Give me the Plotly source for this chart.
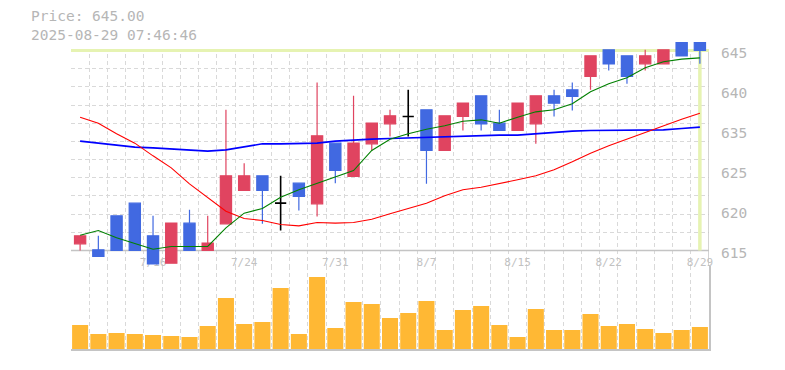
import plotly.graph_objects as go

# ---------------- data ----------------
dates = ["2025-07-10", "2025-07-11", "2025-07-14", "2025-07-15", "2025-07-16",
         "2025-07-17", "2025-07-18", "2025-07-22", "2025-07-23", "2025-07-24",
         "2025-07-25", "2025-07-28", "2025-07-29", "2025-07-30", "2025-07-31",
         "2025-08-01", "2025-08-04", "2025-08-05", "2025-08-06", "2025-08-07",
         "2025-08-08", "2025-08-12", "2025-08-13", "2025-08-14", "2025-08-15",
         "2025-08-18", "2025-08-19", "2025-08-20", "2025-08-21", "2025-08-22",
         "2025-08-25", "2025-08-26", "2025-08-27", "2025-08-28", "2025-08-29"]

open_ = [616.0, 615.1, 620.2, 622.1, 617.2, 613.1, 619.1, 615.0, 619.0, 624.0,
         626.2, 622.1, 625.1, 622.0, 631.1, 626.1, 631.0, 634.0, 635.1, 636.1,
         630.0, 635.1, 638.2, 634.1, 633.0, 634.0, 638.2, 639.1, 641.1, 645.1,
         644.2, 643.0, 643.0, 646.2, 646.2]
high = [617.2, 617.2, 620.2, 622.1, 620.2, 619.1, 621.1, 620.2, 636.1, 628.1,
        626.2, 626.2, 625.1, 640.2, 631.1, 638.2, 634.1, 636.1, 639.1, 636.1,
        635.2, 637.1, 638.2, 636.1, 637.1, 638.2, 639.1, 640.2, 644.2, 645.1,
        644.2, 645.1, 645.1, 646.2, 646.2]
low = [615.0, 614.1, 615.0, 615.0, 613.0, 613.1, 615.0, 615.0, 619.0, 624.0,
       619.0, 618.0, 621.0, 620.1, 625.1, 626.1, 630.0, 632.1, 632.1, 625.0,
       630.0, 633.0, 633.0, 633.0, 633.0, 631.0, 635.1, 636.0, 639.1, 642.0,
       640.0, 642.0, 643.0, 644.2, 643.0]
close = [617.2, 614.1, 615.0, 615.0, 613.0, 619.1, 615.0, 616.1, 626.2, 626.2,
         624.0, 622.1, 623.1, 632.2, 627.0, 631.1, 634.1, 635.2, 635.1, 630.0,
         635.2, 637.1, 634.0, 633.0, 637.1, 638.2, 637.1, 638.1, 644.2, 643.0,
         641.1, 644.2, 645.1, 644.2, 645.0]

volume = [24000, 15000, 16000, 15000, 14000, 13000, 12000, 23000, 51000, 25000,
          27000, 61000, 15000, 72000, 21000, 47000, 45000, 31000, 36000, 48000,
          19000, 39000, 43000, 24000, 12000, 40000, 19000, 19000, 35000, 23000,
          25000, 20000, 16000, 19000, 22000]

ma_short = [617.3, 618.0, 616.9, 616.0, 615.2, 615.6, 615.6, 615.6, 618.4, 620.6,
            621.3, 623.0, 624.1, 625.1, 626.0, 627.0, 630.0, 631.7, 632.5, 633.2,
            633.7, 634.4, 634.6, 634.1, 635.0, 635.8, 636.1, 637.0, 638.8, 640.0,
            640.9, 642.4, 643.3, 643.7, 643.9]
ma_mid = [635.0, 634.1, 632.5, 631.1, 629.2, 627.4, 625.0, 622.9, 620.9, 619.8,
          619.5, 618.9, 618.7, 619.2, 619.1, 619.2, 619.7, 620.5, 621.3, 622.1,
          623.2, 624.1, 624.5, 625.0, 625.6, 626.2, 627.1, 628.3, 629.6, 630.7,
          631.7, 632.8, 633.8, 634.7, 635.6]
ma_long = [631.4, 631.1, 630.8, 630.5, 630.4, 630.2, 630.0, 629.9, 630.1, 630.5,
           631.0, 631.0, 631.0, 631.1, 631.4, 631.6, 631.7, 631.8, 631.9, 632.0,
           632.1, 632.2, 632.3, 632.3, 632.3, 632.5, 632.8, 632.9, 633.0, 633.0,
           633.0, 633.0, 633.1, 633.3, 633.5]

label_dates = ["2025-07-16", "2025-07-24", "2025-07-31", "2025-08-07",
               "2025-08-15", "2025-08-22", "2025-08-29"]
price_tick_vals = [615, 621, 627, 633, 639, 645]
price_tick_text = ["615", "620", "625", "635", "640", "645"]
timestamp = "2025-08-29 07:46:46"

# ---------------- styling ----------------
UP = "#e04460"
DOWN = "#4169e1"
VOL = "#ffb834"
GRID = "#d9d9d9"
AXIS = "#c4c4c4"
CUR = "#e6f3b2"
TXT = "#b6b6b6"
MONO = "DejaVu Sans Mono"

PX_PER_UNIT = 200 / 30.0
y_lo = 615 - 15.5 / PX_PER_UNIT
y_hi = 645 + 10.5 / PX_PER_UNIT

idx = list(range(len(dates)))
n = len(dates)
x_lo, x_hi = -0.5, n - 0.5


def pick(arr, mask):
    return [a if m else None for a, m in zip(arr, mask)]


normal = [o != c for o, c in zip(open_, close)]
doji = [o == c for o, c in zip(open_, close)]

fig = go.Figure()

# moving averages (drawn beneath candles)
fig.add_trace(go.Scatter(x=idx, y=ma_long, mode="lines", line=dict(color="#0000ff", width=1.6),
                         hoverinfo="skip", showlegend=False, xaxis="x", yaxis="y"))
fig.add_trace(go.Scatter(x=idx, y=ma_mid, mode="lines", line=dict(color="#ff0000", width=1.1),
                         hoverinfo="skip", showlegend=False, xaxis="x", yaxis="y"))
fig.add_trace(go.Scatter(x=idx, y=ma_short, mode="lines", line=dict(color="#008000", width=1.1),
                         hoverinfo="skip", showlegend=False, xaxis="x", yaxis="y"))

fig.add_trace(go.Candlestick(
    x=idx, open=pick(open_, normal), high=pick(high, normal),
    low=pick(low, normal), close=pick(close, normal),
    increasing=dict(line=dict(color=UP, width=1.2), fillcolor=UP),
    decreasing=dict(line=dict(color=DOWN, width=1.2), fillcolor=DOWN),
    whiskerwidth=0, showlegend=False, xaxis="x", yaxis="y"))
fig.add_trace(go.Candlestick(
    x=idx, open=pick(open_, doji), high=pick(high, doji),
    low=pick(low, doji), close=pick(close, doji),
    increasing=dict(line=dict(color="#000000", width=1.6), fillcolor="#000000"),
    decreasing=dict(line=dict(color="#000000", width=1.6), fillcolor="#000000"),
    whiskerwidth=0, showlegend=False, xaxis="x", yaxis="y"))

fig.add_trace(go.Bar(x=idx, y=volume, marker=dict(color=VOL, line=dict(width=0)),
                     width=0.88, showlegend=False, hoverinfo="skip", xaxis="x2", yaxis="y2"))

split = (349 - 266) / 309.0
tickvals_x = [dates.index(d) for d in label_dates]
ticktext_x = ["%d/%d" % (int(d[5:7]), int(d[8:10])) for d in label_dates]

minor_x = dict(tickmode="linear", tick0=-0.5, dtick=1, showgrid=True,
               gridcolor=GRID, griddash="4px,3px", gridwidth=1, ticks="")

fig.update_layout(
    width=785, height=370,
    margin=dict(l=71, r=76, t=40, b=21),
    paper_bgcolor="white", plot_bgcolor="white",
    boxgap=0.12,
    showlegend=False,
    xaxis=dict(domain=[0, 1], range=[x_lo, x_hi], anchor="y",
               showgrid=False, zeroline=False, showline=False,
               tickmode="array", tickvals=tickvals_x, ticktext=ticktext_x,
               ticklabelposition="inside", ticklabeloverflow="allow",
               ticklabelstandoff=-5, layer="below traces",
               tickfont=dict(family=MONO, size=11, color="#c2c2c2"),
               ticks="", minor=minor_x,
               rangeslider=dict(visible=False)),
    yaxis=dict(domain=[split, 1], range=[y_lo, y_hi], anchor="x", side="right",
               showgrid=False, zeroline=False, showline=False,
               showticklabels=False, ticks="",
               minor=dict(tickmode="linear", tick0=615, dtick=30 / 11.0, showgrid=True,
                          gridcolor=GRID, griddash="4px,3px", gridwidth=1, ticks="")),
    yaxis3=dict(overlaying="y", anchor="free", position=1, side="right",
                range=[y_lo, y_hi], showgrid=False, zeroline=False, showline=False,
                tickmode="array",
                tickvals=[v - 0.42 for v in price_tick_vals], ticktext=price_tick_text,
                tickfont=dict(family=MONO, size=14.5, color=TXT), ticks="",
                ticklabelstandoff=11),
    xaxis2=dict(domain=[0, 1], range=[x_lo, x_hi], anchor="y2",
                showgrid=False, zeroline=False, showline=True, linecolor=AXIS, linewidth=1.5,
                showticklabels=False, ticks="", minor=minor_x),
    yaxis2=dict(domain=[0, split], range=[0, max(volume) * 83 / 72.0], anchor="x2",
                side="right", showgrid=False, zeroline=False, showline=True,
                linecolor=AXIS, linewidth=1.5, showticklabels=False, ticks=""),
)

# invisible trace so the label axis is drawn
fig.add_trace(go.Scatter(x=[idx[-1]], y=[close[-1]], mode="markers", opacity=0,
                         hoverinfo="skip", showlegend=False, xaxis="x", yaxis="y3"))

shapes = [
    # hide grid above the current price line
    dict(type="rect", xref="x", x0=x_lo, x1=x_hi, yref="y", y0=close[-1], y1=y_hi,
         fillcolor="white", line=dict(width=0), layer="between"),
    # bottom line of price panel
    dict(type="line", xref="x", x0=x_lo, x1=x_hi, yref="y", y0=price_tick_vals[0],
         y1=price_tick_vals[0], line=dict(color=AXIS, width=1.5), layer="between"),
    # right border of price panel
    dict(type="line", xref="x", x0=x_hi, x1=x_hi, yref="y", y0=y_lo, y1=close[-1],
         line=dict(color=AXIS, width=1.5), layer="between"),
    # current price / date lines
    dict(type="line", xref="x", x0=x_lo, x1=x_hi, yref="y", y0=close[-1], y1=close[-1],
         line=dict(color=CUR, width=3), layer="between"),
    dict(type="line", xref="x", x0=idx[-1], x1=idx[-1], yref="y", y0=price_tick_vals[0],
         y1=close[-1], line=dict(color=CUR, width=3.5), layer="between"),
]
fig.update_layout(shapes=shapes)

fig.add_annotation(text="Price: %.2f<br>%s" % (close[-1], timestamp),
                   xref="paper", yref="paper", align="left",
                   x=(29 - 71) / 638.0, y=(349 - 25.5) / 309.0,
                   xanchor="left", yanchor="middle",
                   showarrow=False, font=dict(family=MONO, size=14.5, color=TXT))

fig.write_html("out.html", config={"displayModeBar": False},
               post_script="document.body.style.margin='0';")
